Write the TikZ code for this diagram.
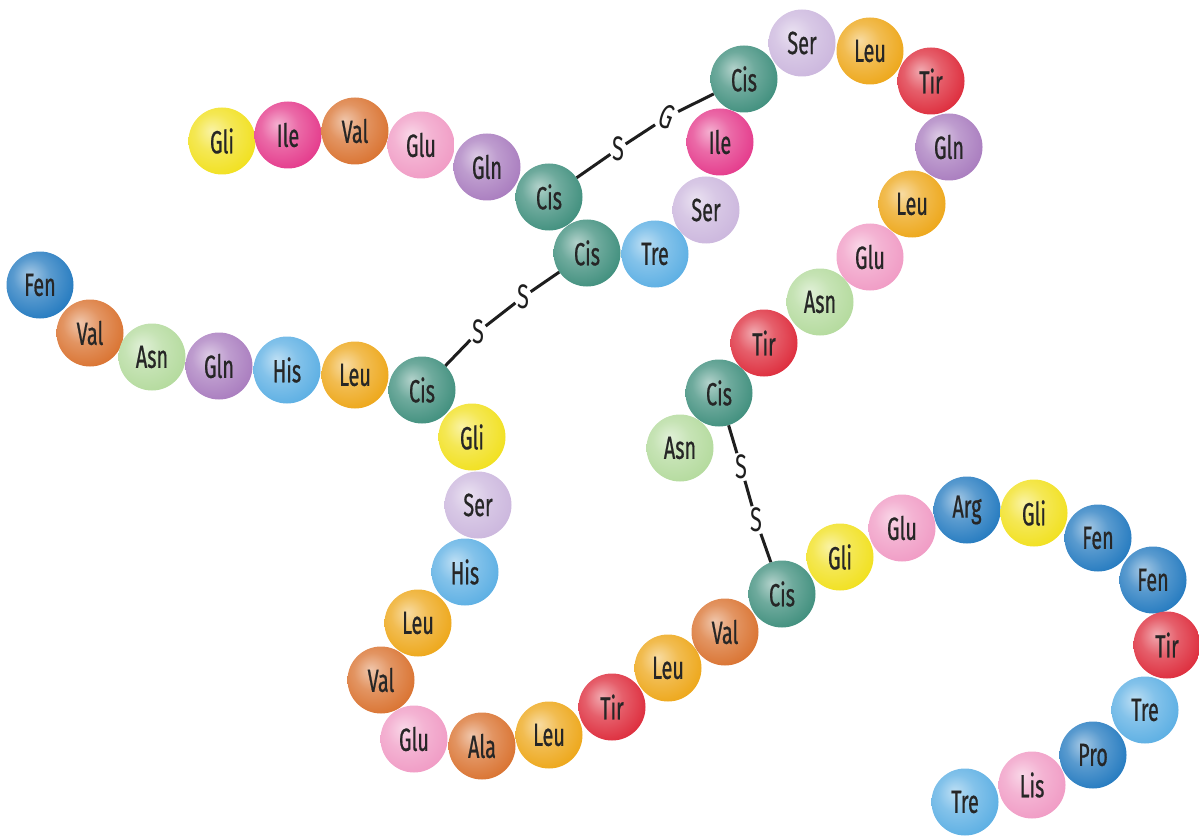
\documentclass[tikz,border=0pt]{standalone}
\usepackage{fontspec}
\setmainfont[FakeStretch=0.64]{Fira Sans}
\newfontfamily\labelfont[FakeStretch=0.62,FakeBold=0.6]{Fira Sans}

% glossy sphere: light centre shifted up-left, darker rim
\makeatletter
\pgfdeclareradialshading[tikz@ball]{orb}{\pgfqpoint{-8bp}{8bp}}{%
  color(0bp)=(tikz@ball!40!white);
  color(14bp)=(tikz@ball!75!white);
  color(32bp)=(tikz@ball);
  color(48bp)=(tikz@ball!85!black);
  color(62bp)=(tikz@ball!62!black)}
\makeatother

\definecolor{cYel}{HTML}{F1E01C}
\definecolor{cMag}{HTML}{E4388A}
\definecolor{cOra}{HTML}{D9712E}
\definecolor{cPnk}{HTML}{F09AC4}
\definecolor{cPur}{HTML}{A87BBE}
\definecolor{cTea}{HTML}{3E8E7C}
\definecolor{cLbl}{HTML}{5AAEE3}
\definecolor{cLav}{HTML}{CBB6DD}
\definecolor{cGld}{HTML}{EDA617}
\definecolor{cRed}{HTML}{DD2A3A}
\definecolor{cGrn}{HTML}{B3DA9C}
\definecolor{cDbl}{HTML}{2279BF}
\definecolor{txt}{HTML}{262626}
\definecolor{lnk}{HTML}{1E1E1E}

\tikzset{
  aa/.style={circle, minimum size=67pt, inner sep=0pt, ball color=#1,
    shading=orb, text=txt, font=\labelfont\fontsize{32}{32}\selectfont},
  sulf/.style={inner sep=1.5pt, text=lnk, font=\fontsize{34}{34}\selectfont},
  bond/.style={draw=lnk, line width=3pt}
}

\begin{document}
\begin{tikzpicture}[x=1pt, y=-1pt]
\useasboundingbox (0,0) rectangle (1199,837);

% ---- disulfide bridge letters ----
\node[sulf] (s1) at (618,149) {S};
\node[sulf, rotate=-20] (g1) at (667,117) {G};
\node[sulf] (s2) at (478,332) {S};
\node[sulf] (s3) at (523,297) {S};
\node[sulf] (s4) at (741,467) {S};
\node[sulf] (s5) at (756,520) {S};

% ---- chain A ----
\node[aa=cYel] (a1) at (222,141) {Gli};
\node[aa=cMag] (a2) at (288,135) {Ile};
\node[aa=cOra] (a3) at (355,131) {Val};
\node[aa=cPnk] (a4) at (421,145) {Glu};
\node[aa=cPur] (a5) at (487,167) {Gln};
\node[aa=cTea] (a6) at (549,197) {Cis};
\node[aa=cTea] (a7) at (587,253) {Cis};
\node[aa=cLbl] (a8) at (655,254) {Tre};
\node[aa=cLav] (a9) at (706,210) {Ser};
\node[aa=cMag] (a10) at (720,142) {Ile};
\node[aa=cTea] (a11) at (744,79) {Cis};
\node[aa=cLav] (a12) at (802,43) {Ser};
\node[aa=cGld] (a13) at (870,51) {Leu};
\node[aa=cRed] (a14) at (931,81) {Tir};
\node[aa=cPur] (a15) at (949,147) {Gln};
\node[aa=cGld] (a16) at (912,204) {Leu};
\node[aa=cPnk] (a17) at (870,257) {Glu};
\node[aa=cGrn] (a18) at (820,302) {Asn};
\node[aa=cRed] (a19) at (764,343) {Tir};
\node[aa=cTea] (a20) at (719,393) {Cis};
\node[aa=cGrn] (a21) at (680,448) {Asn};

% ---- chain B ----
\node[aa=cDbl] (b1) at (40,285) {Fen};
\node[aa=cOra] (b2) at (90,333) {Val};
\node[aa=cGrn] (b3) at (152,357) {Asn};
\node[aa=cPur] (b4) at (219,366) {Gln};
\node[aa=cLbl] (b5) at (287,370) {His};
\node[aa=cGld] (b6) at (355,375) {Leu};
\node[aa=cTea] (b7) at (422,390) {Cis};
\node[aa=cYel] (b8) at (472,437) {Gli};
\node[aa=cLav] (b9) at (478,505) {Ser};
\node[aa=cLbl] (b10) at (465,572) {His};
\node[aa=cGld] (b11) at (418,623) {Leu};
\node[aa=cOra] (b12) at (381,680) {Val};
\node[aa=cPnk] (b13) at (414,739) {Glu};
\node[aa=cOra] (b14) at (482,746) {Ala};
\node[aa=cGld] (b15) at (549,735) {Leu};
\node[aa=cRed] (b16) at (612,707) {Tir};
\node[aa=cGld] (b17) at (668,668) {Leu};
\node[aa=cOra] (b18) at (725,632) {Val};
\node[aa=cTea] (b19) at (782,594) {Cis};
\node[aa=cYel] (b20) at (840,557) {Gli};
\node[aa=cPnk] (b21) at (902,528) {Glu};
\node[aa=cDbl] (b22) at (967,510) {Arg};
\node[aa=cYel] (b23) at (1034,513) {Gli};
\node[aa=cDbl] (b24) at (1098,538) {Fen};
\node[aa=cDbl] (b25) at (1153,580) {Fen};
\node[aa=cRed] (b26) at (1167,645) {Tir};
\node[aa=cLbl] (b27) at (1145,710) {Tre};
\node[aa=cDbl] (b28) at (1093,755) {Pro};
\node[aa=cPnk] (b29) at (1032,785) {Lis};
\node[aa=cLbl] (b30) at (965,802) {Tre};

% ---- bridge segments ----
\draw[bond] (a6) -- (s1);
\draw[bond] (s1) -- (g1);
\draw[bond] (g1) -- (a11);
\draw[bond] (b7) -- (s2);
\draw[bond] (s2) -- (s3);
\draw[bond] (s3) -- (a7);
\draw[bond] (a20) -- (s4);
\draw[bond] (s4) -- (s5);
\draw[bond] (s5) -- (b19);
\end{tikzpicture}
\end{document}
